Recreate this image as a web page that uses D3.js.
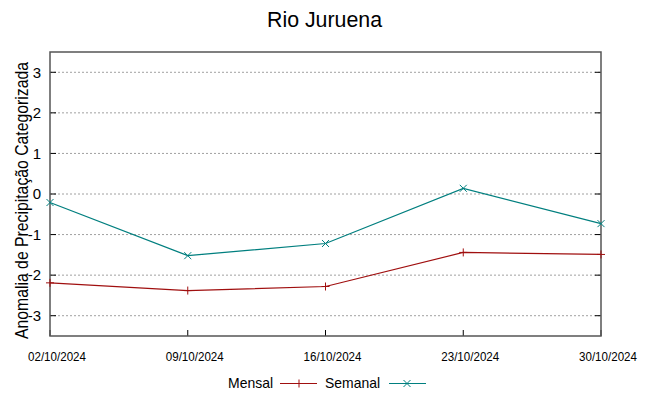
<!DOCTYPE html>
<meta charset="utf-8">
<style>
body { margin: 0; background: #fff; }
text { font-family: "Liberation Sans", Arial, sans-serif; fill: #000; }
.xlab { font-size: 12.5px; }
</style>
<body>
<script src="https://d3js.org/d3.v7.min.js"></script>
<script>

// data
var dates = ["02/10/2024", "09/10/2024", "16/10/2024", "23/10/2024", "30/10/2024"];
var mensal = [-2.19, -2.38, -2.28, -1.44, -1.49];
var semanal = [-0.21, -1.52, -1.22, 0.14, -0.73];
var yTicks = [-3, -2, -1, 0, 1, 2, 3];

var W = 649, H = 396;
var margin = {top: 52, right: 48, bottom: 60, left: 50},
    width = W - margin.left - margin.right,
    height = H - margin.top - margin.bottom;

var parse = d3.timeParse("%d/%m/%Y");

var x = d3.scaleTime()
    .domain([parse(dates[0]), parse(dates[dates.length - 1])])
    .range([0, width]);
var y = d3.scaleLinear()
    .domain([-3.5, 3.5])
    .range([height, 0]);

var svg = d3.select("body").append("svg")
    .attr("width", W)
    .attr("height", H);

var g = svg.append("g")
    .attr("transform", "translate(" + margin.left + "," + margin.top + ")");

// grid lines
g.selectAll("line.grid")
    .data(yTicks)
  .enter().append("line")
    .attr("x1", 0).attr("x2", width)
    .attr("y1", d => y(d)).attr("y2", d => y(d))
    .attr("stroke", "#a0a0a0")
    .attr("stroke-width", 1)
    .attr("stroke-dasharray", "2,2");

// y tick marks, left and right, pointing inward
g.selectAll("line.yt")
    .data(yTicks)
  .enter().append("line")
    .attr("x1", 0).attr("x2", 6)
    .attr("y1", d => y(d)).attr("y2", d => y(d))
    .attr("stroke", "#000");
g.selectAll("line.yt2")
    .data(yTicks)
  .enter().append("line")
    .attr("x1", width - 6).attr("x2", width)
    .attr("y1", d => y(d)).attr("y2", d => y(d))
    .attr("stroke", "#000");

// y labels
g.selectAll("text.ylab")
    .data(yTicks)
  .enter().append("text")
    .attr("x", -9)
    .attr("y", d => y(d))
    .attr("dy", "0.35em")
    .attr("text-anchor", "end")
    .style("font-size", "15px")
    .text(d => d);

// x ticks (bottom, inward)
g.selectAll("line.xt")
    .data(dates)
  .enter().append("line")
    .attr("x1", d => x(parse(d))).attr("x2", d => x(parse(d)))
    .attr("y1", height).attr("y2", height - 6)
    .attr("stroke", "#000");

g.selectAll("text.xlab")
    .data(dates)
  .enter().append("text")
    .attr("class", "xlab")
    .attr("x", d => x(parse(d)) - 22)
    .attr("y", height + 25)
    .attr("textLength", 58)
    .attr("lengthAdjust", "spacingAndGlyphs")
    .text(d => d);

// frame
g.append("rect")
    .attr("width", width).attr("height", height)
    .attr("fill", "none")
    .attr("stroke", "#555")
    .attr("stroke-width", 1.5);

var line = d3.line()
    .x((d, i) => x(parse(dates[i])))
    .y(d => y(d));

var red = "#a00f0f", teal = "#007f7f";

function plusMark(sel, px, py, c) {
  sel.append("path")
    .attr("d", "M" + (px - 4) + "," + py + "h8M" + px + "," + (py - 4) + "v8")
    .attr("stroke", c).attr("stroke-width", 1).attr("fill", "none");
}
function crossMark(sel, px, py, c) {
  sel.append("path")
    .attr("d", "M" + (px - 3.5) + "," + (py - 3.5) + "l7,7M" + (px - 3.5) + "," + (py + 3.5) + "l7,-7")
    .attr("stroke", c).attr("stroke-width", 1).attr("fill", "none");
}

g.append("path")
    .datum(mensal)
    .attr("d", line)
    .attr("fill", "none")
    .attr("stroke", red)
    .attr("stroke-width", 1.2);
mensal.forEach((v, i) => plusMark(g, x(parse(dates[i])), y(v), red));

g.append("path")
    .datum(semanal)
    .attr("d", line)
    .attr("fill", "none")
    .attr("stroke", teal)
    .attr("stroke-width", 1.2);
semanal.forEach((v, i) => crossMark(g, x(parse(dates[i])), y(v), teal));

// title
svg.append("text")
    .attr("x", 267).attr("y", 27)
    .attr("textLength", 115)
    .attr("lengthAdjust", "spacingAndGlyphs")
    .style("font-size", "22px")
    .text("Rio Juruena");

// y axis label
svg.append("text")
    .attr("transform", "translate(28,339) rotate(-90)")
    .attr("textLength", 277)
    .attr("lengthAdjust", "spacingAndGlyphs")
    .style("font-size", "19px")
    .text("Anomalia de Precipitação Categorizada");

// legend
var ly = 383.5;
svg.append("text").attr("x", 228).attr("y", 388)
    .attr("textLength", 45).attr("lengthAdjust", "spacingAndGlyphs")
    .style("font-size", "15px").text("Mensal");
svg.append("line").attr("x1", 280).attr("x2", 317).attr("y1", ly).attr("y2", ly)
    .attr("stroke", red).attr("stroke-width", 1.2);
plusMark(svg, 299, ly, red);
svg.append("text").attr("x", 325).attr("y", 388)
    .attr("textLength", 55).attr("lengthAdjust", "spacingAndGlyphs")
    .style("font-size", "15px").text("Semanal");
svg.append("line").attr("x1", 389).attr("x2", 426).attr("y1", ly).attr("y2", ly)
    .attr("stroke", teal).attr("stroke-width", 1.2);
crossMark(svg, 407, ly, teal);

</script>
</body>
